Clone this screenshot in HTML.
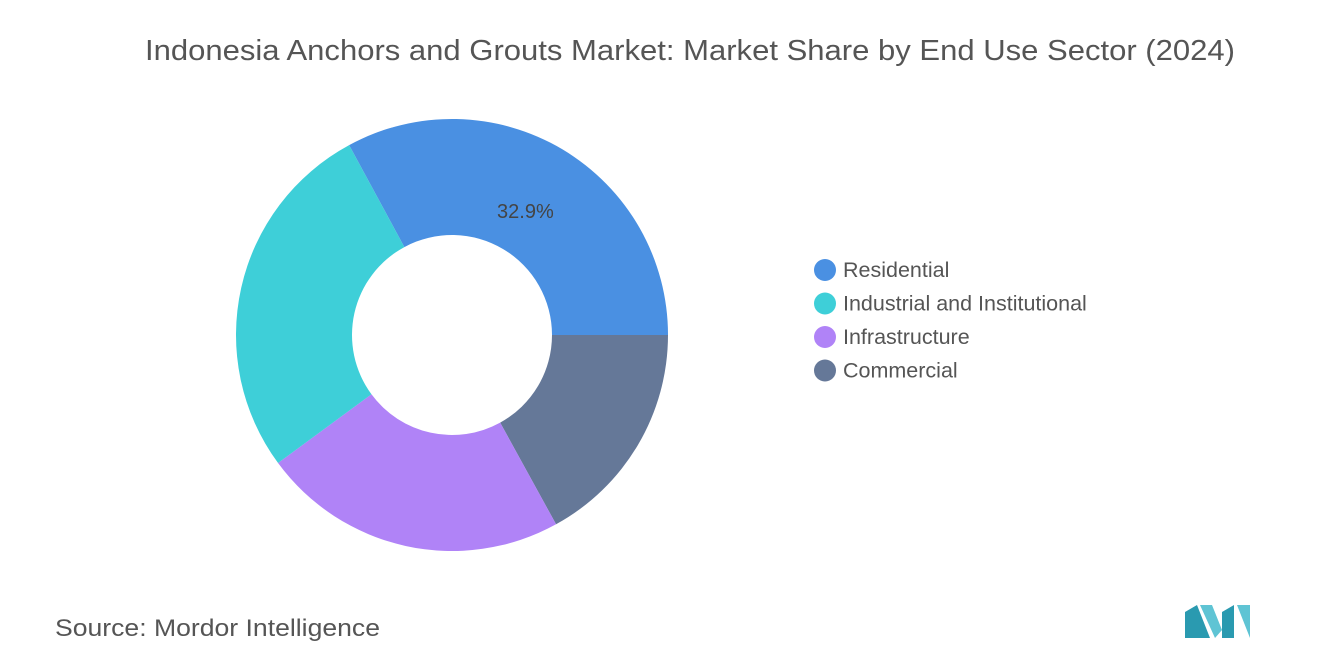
<!DOCTYPE html>
<html><head><meta charset="utf-8"><style>
body{margin:0;background:#fff;font-family:"Liberation Sans",sans-serif;}
#wrap{position:relative;width:1320px;height:665px;overflow:hidden;}
</style></head><body>
<div id="wrap">
<svg id="svg" width="1320" height="665">
<text x="145" y="60" font-size="29" fill="#555" textLength="1090" lengthAdjust="spacingAndGlyphs">Indonesia Anchors and Grouts Market: Market Share by End Use Sector (2024)</text>
<g id="slices"></g>
<g id="legend"></g>
<text x="55" y="636" font-size="24" fill="#555" textLength="325" lengthAdjust="spacingAndGlyphs">Source:  Mordor Intelligence</text>
<g>
<polygon points="1185,638 1185,612 1197,605 1210,638" fill="#2a9ab0"/>
<polygon points="1200,605 1212,605 1222,630 1215,638" fill="#5fc4d4"/>
<polygon points="1222,638 1222,612 1234,605 1234,638" fill="#2a9ab0"/>
<polygon points="1237,605 1250,605 1250,638" fill="#5fc4d4"/>
</g>
</svg>
</div>
<script>
const categories=["Residential","Commercial","Infrastructure","Industrial and Institutional"];
const values=[32.9,17.0,22.9,27.2];
const colors=["#4a90e2","#657898","#b083f7","#3ecfd8"];
const legendOrder=["Residential","Industrial and Institutional","Infrastructure","Commercial"];
const NS="http://www.w3.org/2000/svg";
const cx=452,cy=335,R=216,r=100;
const total=values.reduce((a,b)=>a+b,0);
function pt(a,rad){return [cx+rad*Math.sin(a),cy-rad*Math.cos(a)];}
let a0=Math.PI/2-values[0]/total*2*Math.PI;
const g=document.getElementById('slices');
values.forEach((v,i)=>{
  const a1=a0+v/total*2*Math.PI;
  const large=(a1-a0)>Math.PI?1:0;
  const [x0,y0]=pt(a0,R),[x1,y1]=pt(a1,R),[x2,y2]=pt(a1,r),[x3,y3]=pt(a0,r);
  const p=document.createElementNS(NS,'path');
  p.setAttribute('d',`M${x0},${y0}A${R},${R} 0 ${large} 1 ${x1},${y1}L${x2},${y2}A${r},${r} 0 ${large} 0 ${x3},${y3}Z`);
  p.setAttribute('fill',colors[i]);
  
  
  g.appendChild(p);
  if(i===0){
    const m=(a0+a1)/2;const [lx,ly]=pt(m,(R+r)/2+5);
    const t=document.createElementNS(NS,'text');
    t.setAttribute('x',lx-10);t.setAttribute('y',ly+23);t.setAttribute('text-anchor','middle');
    t.setAttribute('font-size','20');t.setAttribute('fill','#444');
    t.textContent=v.toFixed(1)+'%';
    
    
    g.appendChild(t);
  }
  a0=a1;
});
const lg=document.getElementById('legend');
legendOrder.forEach((c,i)=>{
  const y=270+i*33.5;
  const gi=document.createElementNS(NS,'g');
  
  
  const ci=document.createElementNS(NS,'circle');
  ci.setAttribute('cx',825);ci.setAttribute('cy',y);ci.setAttribute('r',11);
  ci.setAttribute('fill',colors[categories.indexOf(c)]);
  const t=document.createElementNS(NS,'text');
  t.setAttribute('x',843);t.setAttribute('y',y+7);t.setAttribute('font-size','21.5');t.setAttribute('fill','#555');
  t.textContent=c;
  gi.appendChild(ci);gi.appendChild(t);lg.appendChild(gi);
});
</script>
</body></html>
